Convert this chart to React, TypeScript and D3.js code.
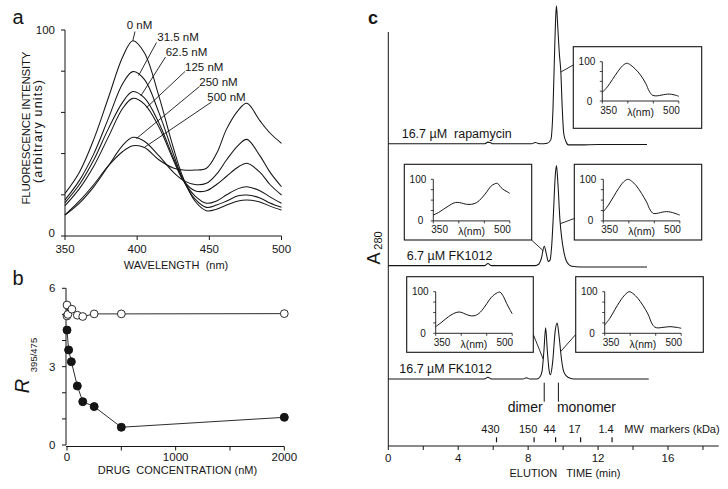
import React from "react";
import * as d3 from "d3";

// ---------------- Panel a: emission spectra ----------------
const wavelengths = [350, 360, 370, 380, 390, 397, 405, 415, 425, 432, 440, 448, 455, 462, 470, 476, 485, 492, 500];
const concLabels = ["0 nM", "31.5 nM", "62.5 nM", "125 nM", "250 nM", "500 nM"];
const fl0 = [20.7, 31, 47, 67, 87, 94.8, 89, 68, 43, 28, 17, 12.3, 13, 15, 17, 17.5, 16.5, 14.5, 12.6];
const fl31 = [17.5, 27, 40, 57, 74, 79.8, 76, 60, 40, 27, 18, 13.9, 15, 17, 19.5, 19.9, 18.5, 16, 13.9];
const fl62 = [16.2, 25, 37, 52, 65, 70.1, 67, 55, 38, 27, 19.5, 15.9, 17, 20, 23, 23.9, 22, 19, 15.9];
const fl125 = [14.7, 23, 34, 48, 62, 66.8, 64, 53, 37, 27, 22, 22, 25, 29, 33.5, 35.3, 31, 25, 19.9];
const fl250 = [10.2, 16, 24, 34, 44, 47.9, 46, 39, 31, 27, 25, 25.6, 30, 37, 44, 46.9, 39, 31, 23.9];
const fl500 = [10.2, 17, 25, 34, 41, 43.8, 43, 37, 33, 32, 32, 32.9, 40, 52, 61, 64.4, 56, 50, 45];
const labelWavelengths = [397, 401, 402.5, 406.5, 399.5, 405];
const aXTicks = [350, 400, 450, 500];
const aYTicks = [0, 20, 40, 60, 80, 100];

// ---------------- Panel b: ratio vs drug ----------------
const filledConc = [0, 15, 40, 95, 145, 250, 500, 2000];
const filledRatio = [4.4, 3.64, 3.19, 2.26, 1.66, 1.47, 0.68, 1.06];
const openConc = [0, 0, 8, 45, 95, 145, 250, 500, 2000];
const openRatio = [4.94, 5.36, 5.0, 5.2, 4.97, 4.92, 5.02, 5.02, 5.03];
const bXTicks = [0, 500, 1000, 1500, 2000];
const bXLabels = [0, 1000, 2000];
const bYTicks = [0, 1, 2, 3, 4, 5, 6];
const bYLabels = [0, 3, 6];

// ---------------- Panel c: chromatograms ----------------
const traceLabels = ["16.7 \u00b5M  rapamycin", "6.7 \u00b5M FK1012", "16.7 \u00b5M FK1012"];
const traceOffsets = [2.19, 1.307, 0.486];
const rapaTime = [0, 5.5, 5.7, 5.85, 6.0, 8.2, 8.4, 8.55, 8.7, 9.1, 9.3, 9.42, 9.52, 9.58, 9.62, 9.68, 9.78, 9.87, 9.95, 10.03, 10.15, 10.3, 11, 12, 13, 14.8];
const rapaAbs = [0, 0, 0.012, 0.008, 0, 0, 0.01, 0.004, 0, 0.004, 0.03, 0.25, 0.7, 0.93, 1.0, 0.88, 0.66, 0.52, 0.26, 0.08, 0.02, -0.008, -0.008, -0.005, -0.005, -0.005];
const midTime = [0, 5.5, 5.7, 5.9, 8.4, 8.6, 8.75, 8.92, 9.05, 9.15, 9.25, 9.35, 9.44, 9.55, 9.62, 9.7, 9.82, 9.92, 10.0, 10.2, 10.5, 11, 14.8];
const midAbs = [0, 0, 0.015, 0, 0, 0.01, 0.05, 0.14, 0.08, 0.03, 0.04, 0.15, 0.36, 0.65, 0.725, 0.6, 0.33, 0.2, 0.13, 0.03, -0.005, -0.01, -0.01];
const botTime = [0, 5.5, 5.7, 5.9, 7.7, 7.9, 8.1, 8.5, 8.7, 8.8, 8.9, 9.0, 9.1, 9.2, 9.28, 9.4, 9.55, 9.66, 9.76, 9.9, 10.0, 10.1, 10.3, 10.6, 14.9];
const botAbs = [0, 0, 0.012, 0, 0, 0.008, 0, 0, 0.02, 0.06, 0.2, 0.37, 0.2, 0.06, 0.03, 0.12, 0.35, 0.405, 0.32, 0.15, 0.07, 0.035, 0.01, 0, 0];
const cXTicks = [0, 2, 4, 6, 8, 10, 12, 14, 16, 18];
const cXLabels = [0, 4, 8, 12, 16];
const mwTimes = [6.19, 8.34, 9.57, 11.0, 12.8];
const mwLabels = ["430", "150", "44", "17", "1.4"];
const speciesTimes = [8.92, 9.73];
const speciesLabels = ["dimer", "monomer"];

// inset spectra
const monoWl = [350, 360, 370, 380, 390, 398, 405, 415, 425, 435, 442, 448, 455, 462, 470, 478, 486, 493, 500];
const rapaSpec = [22, 36, 55, 74, 90, 96, 92, 81, 66, 45, 25, 15, 13, 14, 16, 17.5, 17, 15, 12];
const mono6Spec = [22, 38, 58, 78, 94, 100, 96, 84, 66, 45, 26, 18, 18, 20, 22, 22, 20, 17, 14];
const mono16Spec = [20, 36, 57, 77, 93, 100, 96, 84, 67, 46, 25, 15, 13, 14, 15, 16, 15, 14, 12];
const dimerWl = [350, 360, 370, 380, 390, 398, 405, 415, 425, 435, 445, 455, 462, 470, 476, 483, 489, 495, 500];
const dimer6Spec = [14, 20, 28, 36, 43, 44.5, 43, 40, 40, 44, 55, 70, 82, 89, 90, 80, 74, 70, 66];
const dimer16Spec = [16, 25, 35, 44, 50, 51, 48, 43, 42, 48, 62, 80, 90, 97, 99, 88, 72, 58, 47];
const insetXTicks = [350, 400, 450, 500];
const insetYTicks = [0, 25, 50, 75, 100];

const FONT = "'Liberation Sans', Arial, Helvetica, sans-serif";
const INK = "#151515";

function interp(xs: number[], ys: number[], x: number) {
  for (let i = 0; i < xs.length - 1; i++) {
    if (x >= xs[i] && x <= xs[i + 1]) {
      const t = (x - xs[i]) / (xs[i + 1] - xs[i]);
      return ys[i] + t * (ys[i + 1] - ys[i]);
    }
  }
  return ys[ys.length - 1];
}

function PanelA() {
  const x = d3.scaleLinear().domain([350, 500]).range([65, 281.5]);
  const y = d3.scaleLinear().domain([0, 100]).range([236, 30]);
  const line = d3
    .line<number>()
    .x((_, i) => x(wavelengths[i]))
    .y((d) => y(d))
    .curve(d3.curveCatmullRom.alpha(0.5));
  const series = [fl0, fl31, fl62, fl125, fl250, fl500];
  const labelPos = [[126.7, 29], [157.3, 41], [165.7, 55.5], [185, 70.5], [199.3, 85.5], [207.3, 100.5]];
  const lineStart = [[135, 31.5], [156.5, 42.5], [165.5, 57], [185, 71.5], [199.5, 86.5], [211.5, 102]];
  return (
    <g>
      <text x={12.5} y={24} fontSize={20}>a</text>
      {series.map((s, i) => (
        <path key={i} d={line(s) || ""} fill="none" stroke={INK} strokeWidth={1.05} />
      ))}
      {series.map((s, i) => {
        const wl = labelWavelengths[i];
        const v = interp(wavelengths, s, wl);
        return (
          <g key={"l" + i}>
            <line x1={lineStart[i][0]} y1={lineStart[i][1]} x2={x(wl)} y2={y(v)} stroke={INK} strokeWidth={0.9} />
            <text x={labelPos[i][0]} y={labelPos[i][1]} fontSize={11.5}>{concLabels[i]}</text>
          </g>
        );
      })}
      <line x1={x(350)} x2={x(350)} y1={y(0)} y2={y(100)} stroke={INK} />
      <line x1={x(350)} x2={x(500)} y1={y(0)} y2={y(0)} stroke={INK} />
      {aYTicks.map((t) => (
        <line key={t} x1={x(350) - 4} x2={x(350)} y1={y(t)} y2={y(t)} stroke={INK} />
      ))}
      <text x={55} y={y(100) + 4} fontSize={11.5} textAnchor="end">100</text>
      <text x={55} y={y(0) + 1} fontSize={11.5} textAnchor="end">0</text>
      {aXTicks.map((t) => (
        <g key={t}>
          <line x1={x(t)} x2={x(t)} y1={y(0)} y2={y(0) + 4} stroke={INK} />
          <text x={x(t)} y={253} fontSize={11.5} textAnchor="middle">{t}</text>
        </g>
      ))}
      <text x={176} y={269} fontSize={11} textAnchor="middle" style={{ whiteSpace: "pre" }}>WAVELENGTH  (nm)</text>
      <text transform="translate(30,128) rotate(-90)" fontSize={11.5} textAnchor="middle" textLength={153} lengthAdjust="spacing">FLUORESCENCE INTENSITY</text>
      <text transform="translate(41.5,131.5) rotate(-90)" fontSize={12.5} textAnchor="middle" textLength={103} lengthAdjust="spacing">(arbitrary units)</text>
    </g>
  );
}

function PanelB() {
  const x = d3.scaleLinear().domain([0, 2000]).range([67, 284.3]);
  const y = d3.scaleLinear().domain([0, 6]).range([445, 288.3]);
  const filledPts = filledConc.map((c, i) => [c, filledRatio[i]] as [number, number]);
  const openPts = openConc.map((c, i) => [c, openRatio[i]] as [number, number]);
  const line = d3.line<[number, number]>().x((d) => x(d[0])).y((d) => y(d[1]));
  return (
    <g>
      <text x={12.5} y={285} fontSize={20}>b</text>
      <line x1={66} x2={66} y1={y(0)} y2={y(6)} stroke={INK} />
      {bYTicks.map((t) => (
        <line key={t} x1={62} x2={66} y1={y(t)} y2={y(t)} stroke={INK} />
      ))}
      {bYLabels.map((t) => (
        <text key={t} x={55.5} y={y(t) + 4} fontSize={11.5} textAnchor="end">{t}</text>
      ))}
      <line x1={66} x2={x(2000)} y1={446.5} y2={446.5} stroke={INK} />
      {bXTicks.map((t) => (
        <line key={t} x1={x(t)} x2={x(t)} y1={446.5} y2={450.5} stroke={INK} />
      ))}
      {bXLabels.map((t) => (
        <text key={t} x={x(t)} y={460.5} fontSize={11.5} textAnchor="middle">{t}</text>
      ))}
      <text x={177.5} y={474} fontSize={11} textAnchor="middle" style={{ whiteSpace: "pre" }}>DRUG  CONCENTRATION (nM)</text>
      <text transform="translate(28.5,386) rotate(-90)" fontSize={20} fontStyle="italic" textAnchor="middle">R</text>
      <text transform="translate(36.5,355) rotate(-90)" fontSize={9.5} textAnchor="middle">395/475</text>
      <path d={line(openPts) || ""} fill="none" stroke={INK} strokeWidth={0.9} />
      <path d={line(filledPts) || ""} fill="none" stroke={INK} strokeWidth={0.9} />
      {openPts.map((d, i) => (
        <circle key={"o" + i} cx={x(d[0])} cy={y(d[1])} r={3.9} fill="#fff" stroke={INK} strokeWidth={0.9} />
      ))}
      {filledPts.map((d, i) => (
        <circle key={"f" + i} cx={x(d[0])} cy={y(d[1])} r={4} fill={INK} stroke={INK} />
      ))}
    </g>
  );
}

function Inset(props: { bx: number; by: number; bw: number; bh: number; axisOff: number; wl: number[]; vals: number[] }) {
  const { bx, by, bw, bh, axisOff, wl, vals } = props;
  const x = d3.scaleLinear().domain([350, 500]).range([bx + 29, bx + 105.5]);
  const y = d3.scaleLinear().domain([0, 100]).range([by + axisOff, by + 15]);
  const line = d3
    .line<number>()
    .x((_, i) => x(wl[i]))
    .y((d) => y(d))
    .curve(d3.curveCatmullRom.alpha(0.5));
  return (
    <g>
      <rect x={bx} y={by} width={bw} height={bh} fill="#fff" stroke={INK} strokeWidth={1.1} />
      <line x1={x(350)} x2={x(350)} y1={y(0)} y2={y(100)} stroke={INK} strokeWidth={0.9} />
      <line x1={x(350)} x2={x(500)} y1={y(0)} y2={y(0)} stroke={INK} strokeWidth={0.9} />
      {insetYTicks.map((t) => (
        <line key={t} x1={x(350) - 2.5} x2={x(350)} y1={y(t)} y2={y(t)} stroke={INK} strokeWidth={0.8} />
      ))}
      {insetXTicks.map((t) => (
        <line key={t} x1={x(t)} x2={x(t)} y1={y(0)} y2={y(0) + 2.5} stroke={INK} strokeWidth={0.8} />
      ))}
      <path d={line(vals) || ""} fill="none" stroke={INK} strokeWidth={1} />
      <text x={x(350) - 7} y={y(100) + 3.5} fontSize={10} textAnchor="end">100</text>
      <text x={x(350) - 10} y={y(0) + 3.5} fontSize={10} textAnchor="end">0</text>
      <text x={x(350) - 2} y={y(0) + 12.5} fontSize={10}>350</text>
      <text x={x(500) + 1} y={y(0) + 12.5} fontSize={10} textAnchor="end">500</text>
      <text x={x(425)} y={y(0) + 14.5} fontSize={10.5} textAnchor="middle">{"\u03bb(nm)"}</text>
    </g>
  );
}

function PanelC() {
  const x = d3.scaleLinear().domain([0, 16]).range([388.3, 668]);
  const y = d3.scaleLinear().domain([0, 3]).range([446, 32]);
  const traces = [
    [rapaTime, rapaAbs],
    [midTime, midAbs],
    [botTime, botAbs],
  ];
  const traceY = (k: number, t: number) => y(traceOffsets[k] + interp(traces[k][0], traces[k][1], t));
  const labelPos = [[401.7, 137.5], [406.7, 259.5], [399.3, 372.5]];
  const connectors = [
    { from: [573.3, 65], k: 0, t: 9.87 },
    { from: [531.5, 240], k: 1, t: 8.86 },
    { from: [574.3, 218.5], k: 1, t: 9.84 },
    { from: [533.3, 334.5], k: 2, t: 8.86 },
    { from: [575.7, 334.5], k: 2, t: 9.86 },
  ];
  return (
    <g>
      <text x={368} y={24} fontSize={18} fontWeight="bold">c</text>
      <line x1={x(0)} x2={x(0)} y1={y(0)} y2={y(3)} stroke={INK} />
      <line x1={x(0)} x2={x(18.9)} y1={y(0)} y2={y(0)} stroke={INK} />
      {cXTicks.map((t) => (
        <line key={t} x1={x(t)} x2={x(t)} y1={y(0)} y2={y(0) + 4} stroke={INK} />
      ))}
      {cXLabels.map((t) => (
        <text key={t} x={x(t)} y={461.5} fontSize={11.5} textAnchor="middle">{t}</text>
      ))}
      <text x={565} y={476.5} fontSize={11} textAnchor="middle" style={{ whiteSpace: "pre" }}>ELUTION   TIME (min)</text>
      <text transform="translate(380,258.5) rotate(-90)" fontSize={18} textAnchor="middle">A</text>
      <text transform="translate(382,240.5) rotate(-90)" fontSize={11} textAnchor="middle">280</text>
      {traces.map((tr, k) => {
        const pts = tr[0].map((t, i) => [t, tr[1][i]] as [number, number]);
        const line = d3
          .line<[number, number]>()
          .x((d) => x(d[0]))
          .y((d) => y(traceOffsets[k] + d[1]))
          .curve(d3.curveMonotoneX);
        return (
          <g key={k}>
            <path d={line(pts) || ""} fill="none" stroke={INK} strokeWidth={1.05} />
            <text x={labelPos[k][0]} y={labelPos[k][1]} fontSize={12.5} style={{ whiteSpace: "pre" }}>{traceLabels[k]}</text>
          </g>
        );
      })}
      {connectors.map((c, i) => (
        <line key={i} x1={c.from[0]} y1={c.from[1]} x2={x(c.t)} y2={traceY(c.k, c.t)} stroke={INK} strokeWidth={0.9} />
      ))}
      <Inset bx={573.3} by={46.7} bw={128.4} bh={81.6} axisOff={54.3} wl={monoWl} vals={rapaSpec} />
      <Inset bx={404.3} by={164.3} bw={127.4} bh={75.7} axisOff={56.6} wl={dimerWl} vals={dimer6Spec} />
      <Inset bx={574.3} by={164.3} bw={127.4} bh={75.7} axisOff={56.6} wl={monoWl} vals={mono6Spec} />
      <Inset bx={406.7} by={276.7} bw={126.6} bh={75.6} axisOff={56.6} wl={dimerWl} vals={dimer16Spec} />
      <Inset bx={575.7} by={276.7} bw={127.6} bh={75.6} axisOff={56.6} wl={monoWl} vals={mono16Spec} />
      {speciesTimes.map((t, i) => (
        <line key={i} x1={x(t)} x2={x(t)} y1={382.7} y2={401.7} stroke={INK} strokeWidth={1} />
      ))}
      <text x={x(speciesTimes[0]) - 1.5} y={411.5} fontSize={14} textAnchor="end">{speciesLabels[0]}</text>
      <text x={x(speciesTimes[1]) - 1.5} y={411.5} fontSize={14}>{speciesLabels[1]}</text>
      {mwTimes.map((t, i) => (
        <g key={i}>
          <line x1={x(t)} x2={x(t)} y1={437.3} y2={442.3} stroke={INK} strokeWidth={1.2} />
          <text x={x(t) - 6} y={433} fontSize={11} textAnchor="middle">{mwLabels[i]}</text>
        </g>
      ))}
      <text x={624.3} y={433} fontSize={11} style={{ whiteSpace: "pre" }}>MW  markers (kDa)</text>
    </g>
  );
}

export default function App() {
  return (
    <div style={{ position: "absolute", left: 0, top: 0 }}>
      <svg width={728} height={489} style={{ display: "block", background: "#fff" }} fontFamily={FONT} fill={INK}>
        <PanelA />
        <PanelB />
        <PanelC />
      </svg>
    </div>
  );
}
